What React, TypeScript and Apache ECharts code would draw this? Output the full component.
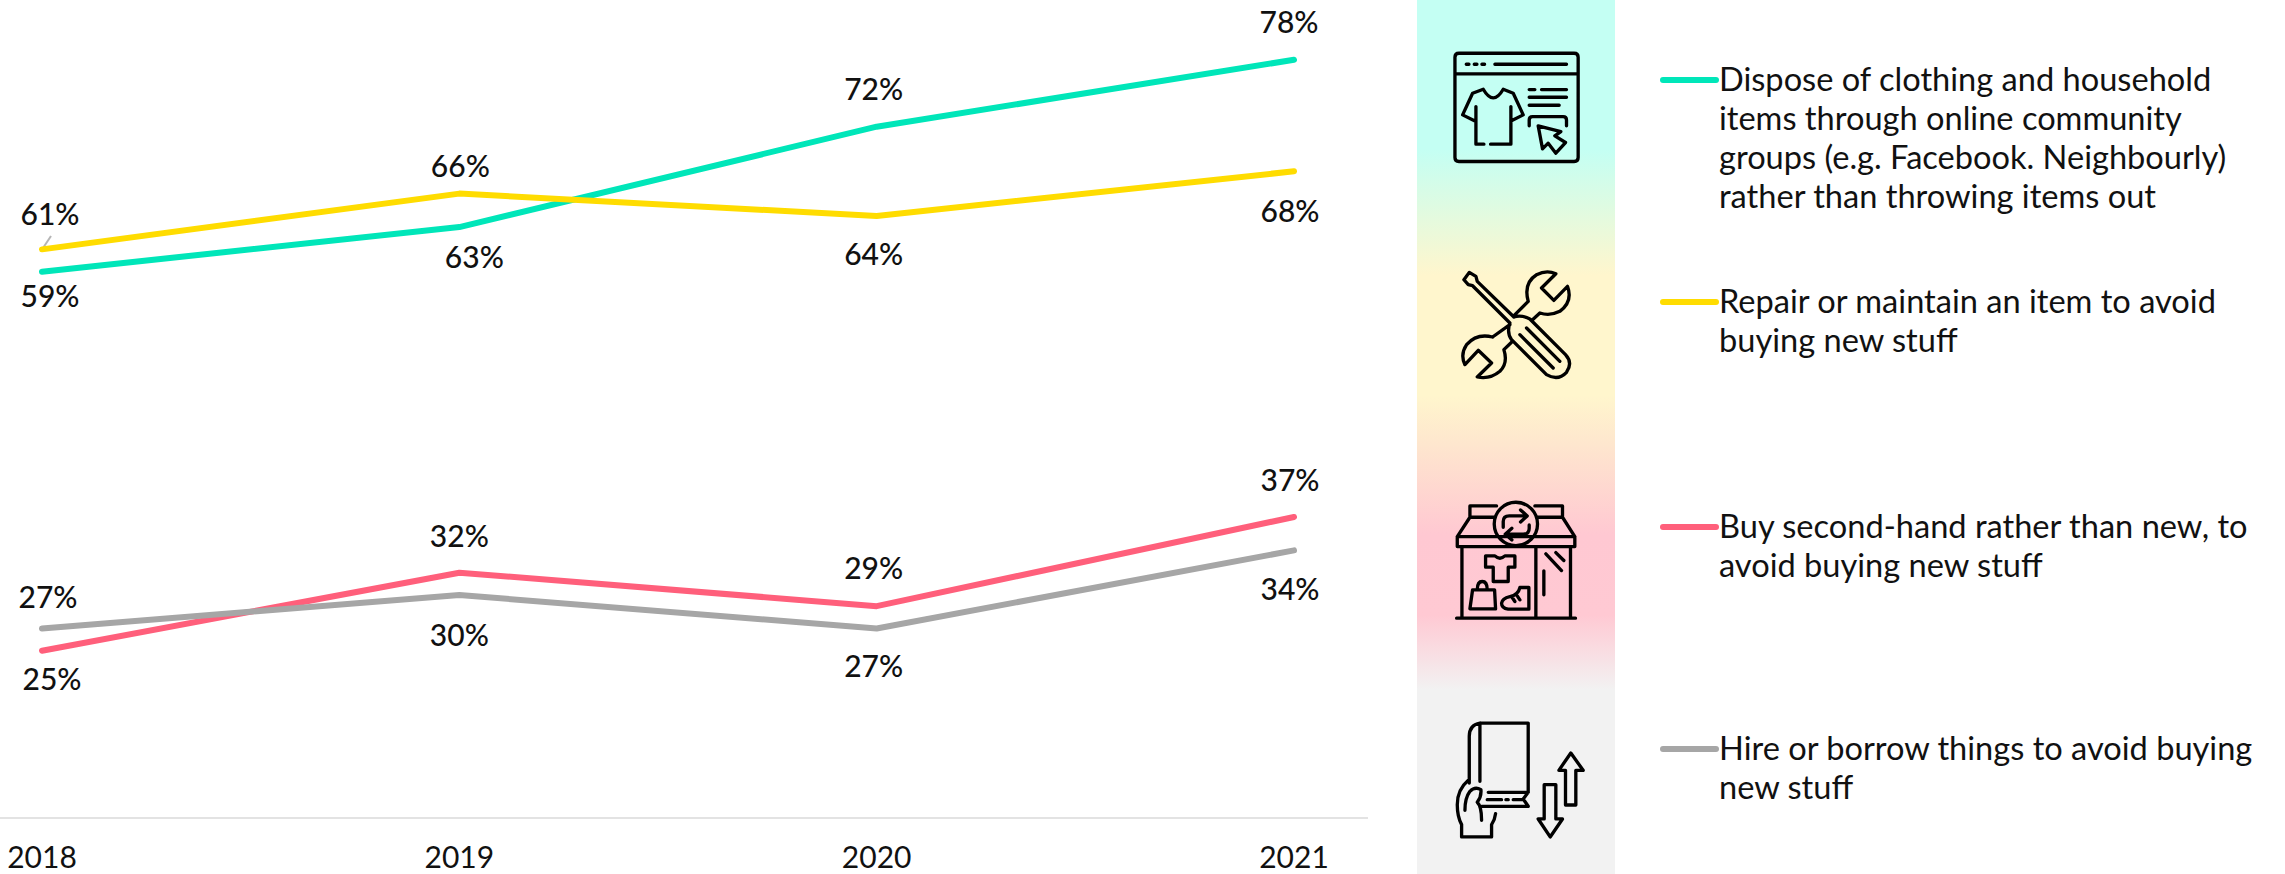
import React, { useEffect, useRef } from "react";
import * as echarts from "echarts";

const years = ["2018", "2019", "2020", "2021"];
const dispose = [59, 63, 72, 78];
const repair = [61, 66, 64, 68];
const secondHand = [25, 32, 29, 37];
const hire = [27, 30, 27, 34];

const legendLabels = [
  "Dispose of clothing and household\nitems through online community\ngroups (e.g. Facebook. Neighbourly)\nrather than throwing items out",
  "Repair or maintain an item to avoid\nbuying new stuff",
  "Buy second-hand rather than new, to\navoid buying new stuff",
  "Hire or borrow things to avoid buying\nnew stuff",
];

const COLORS = ["#00E6B9", "#FFDC00", "#FF5F7B", "#A6A6A6"];
const FONT = "Lato";
const TEXT = "#111111";

const labelOffsets: number[][][] = [
  [[8, 23], [15, 29], [-3, -39], [-5, -39]],
  [[8, -36], [1, -29], [-3, 37], [-4, 39]],
  [[10, 27], [0, -38], [-3, -39], [-4, -38]],
  [[6, -32], [0, 39], [-3, 37], [-4, 38]],
];

const legendY = [80, 302, 527, 749];

const ICON_BROWSER =
  "M177 160H523Q535 160 535 172V473Q535 485 523 485H177Q165 485 165 473V172Q165 160 177 160Z" +
  "M165 222H535M199 193H207M223 193H231M246 193H254M285 193H500" +
  "M228 320V433H252M272 433H333V320" +
  "M222 362L188 345L218 280L250 268Q280 320 310 268L340 280L370 345L336 362" +
  "M388 269H405M425 269H500M388 292H500M388 316H478" +
  "M388 378V360Q388 350 398 350H490Q500 350 500 360V378" +
  "M415 378L483 395L465 408L497 428L468 460L445 430L428 447Z";

const ICON_TOOLS =
  "M192 840L208 818L228 830L232 845L342 952M192 840L205 855L218 858L330 970" +
  "M342 952Q365 945 390 958L497 1065Q520 1090 500 1118Q475 1145 440 1125L335 1020Q320 1000 330 970" +
  "M380 985L480 1085M360 1005L460 1105" +
  "M385 905Q370 850 410 825Q440 810 468 822L425 865L462 902L503 860Q520 905 480 935Q450 950 420 940L398 960" +
  "M385 905L340 950M330 975L278 1012" +
  "M278 1012Q230 1000 200 1035Q180 1065 195 1095L235 1052L275 1090L232 1132Q270 1140 300 1115Q325 1090 312 1050L335 1028";

const ICON_SHOP =
  "M283 232H210V198H290M405 198H488V232H412M210 232L172 290M488 232L525 290M172 290H525V320H172Z" +
  "M283 252A65 65 0 1 1 413 252A65 65 0 1 1 283 252Z" +
  "M310 262V245Q310 228 328 228H380M362 210L382 228L362 246" +
  "M388 255V265Q388 283 370 283H318M336 265L316 283L336 300" +
  "M186 320V535M408 320V535M512 320V535M170 535H527" +
  "M438 342L485 392M468 338L492 362M432 393V465" +
  "M257 348H285Q300 362 315 348H345V382H325V425H280V382H257Z" +
  "M210 507L218 450H284L287 507Z M232 450Q232 425 247 425Q262 425 262 450" +
  "M360 443H387V508H325Q305 505 305 490Q307 475 330 470Q355 465 360 443Z M335 470L345 485M350 465L360 480";

const ICON_BOOK =
  "M240 850H385V1058H265M240 850Q208 855 208 890V1030M240 855V1025" +
  "M385 1058L370 1078L385 1100H245M262 1080H305M318 1080H325M340 1080H370" +
  "M205 1022Q172 1050 172 1095Q172 1130 185 1155V1192H275V1155Q285 1140 287 1122" +
  "M195 1112Q195 1075 210 1055Q225 1040 243 1050Q245 1070 232 1088Q245 1100 245 1142" +
  "M513 940L550 992H528V1096H497V992H477Z" +
  "M433 1035H468V1138H488L451 1192L415 1138H433Z";

echarts.graphic.registerShape("iconBrowser", echarts.graphic.extendPath(ICON_BROWSER, {}));
echarts.graphic.registerShape("iconTools", echarts.graphic.extendPath(ICON_TOOLS, {}));
echarts.graphic.registerShape("iconShop", echarts.graphic.extendPath(ICON_SHOP, {}));
echarts.graphic.registerShape("iconBook", echarts.graphic.extendPath(ICON_BOOK, {}));

const H = 874;
const band = [
  [0, "#C4FFF3"],
  [150, "#C4FFF3"],
  [275, "#FFF6CD"],
  [395, "#FFF6CD"],
  [445, "#FEE6CE"],
  [535, "#FFC8D2"],
  [615, "#FFC9D3"],
  [690, "#F2F2F2"],
  [874, "#F2F2F2"],
] as [number, string][];

function icon(type: string, y: number) {
  return {
    type,
    x: 1400,
    y,
    scaleX: 1 / 3,
    scaleY: 1 / 3,
    silent: true,
    style: { fill: "none", stroke: "#000", lineWidth: 10, lineCap: "round", lineJoin: "round" },
  };
}

export default function App() {
  const ref = useRef<HTMLDivElement>(null);
  useEffect(() => {
    const chart = echarts.init(ref.current!, null, { renderer: "svg" });
    const seriesValues = [dispose, repair, secondHand, hire];
    chart.setOption({
      animation: false,
      backgroundColor: "#fff",
      grid: { left: 42, width: 1252, top: 37.5, height: 780.5 },
      xAxis: {
        type: "category",
        data: years,
        boundaryGap: false,
        axisLine: { show: false },
        axisTick: { show: false },
        splitLine: { show: false },
        axisLabel: { color: TEXT, fontFamily: FONT, fontSize: 30, lineHeight: 30, margin: 23 },
      },
      yAxis: { type: "value", min: 10, max: 80, show: false, splitLine: { show: false } },
      series: seriesValues.map((vals, s) => ({
        type: "line",
        data: vals.map((v, i) => ({
          value: v,
          label: { offset: labelOffsets[s][i] },
        })),
        symbol: "circle",
        symbolSize: 1,
        itemStyle: { color: COLORS[s] },
        lineStyle: { color: COLORS[s], width: 6, cap: "round", join: "round" },
        label: {
          show: true,
          position: "inside",
          formatter: "{c}%",
          color: TEXT,
          fontFamily: FONT,
          fontSize: 30,
          fontWeight: 500,
        },
        silent: true,
      })),
      graphic: [
        {
          type: "rect",
          z: -10,
          shape: { x: 1417, y: 0, width: 198, height: H },
          style: {
            fill: {
              type: "linear",
              x: 0,
              y: 0,
              x2: 0,
              y2: 1,
              colorStops: band.map(([p, color]) => ({ offset: p / H, color })),
            },
          },
        },
        {
          type: "line",
          shape: { x1: 0, y1: 818, x2: 1368, y2: 818 },
          style: { stroke: "#E3E3E3", lineWidth: 2 },
        },
        {
          type: "line",
          shape: { x1: 43, y1: 248, x2: 51, y2: 236 },
          style: { stroke: "#B5B5B5", lineWidth: 2 },
        },
        icon("iconBrowser", 0),
        icon("iconTools", 0),
        icon("iconShop", 440),
        icon("iconBook", 440),
        ...legendLabels.flatMap((t, i) => [
          {
            type: "line",
            shape: { x1: 1663, y1: legendY[i], x2: 1716, y2: legendY[i] },
            style: { stroke: COLORS[i], lineWidth: 6, lineCap: "round" },
          },
          {
            type: "text",
            x: 1719,
            y: legendY[i] - 21.5,
            style: {
              text: t,
              fill: TEXT,
              font: `32.6px ${FONT}`,
              lineHeight: 39,
              verticalAlign: "top",
            },
          },
        ]),
      ],
    });
    return () => chart.dispose();
  }, []);
  return (
    <div
      ref={ref}
      style={{ position: "absolute", left: 0, top: 0, width: 2285, height: 874 }}
    />
  );
}
